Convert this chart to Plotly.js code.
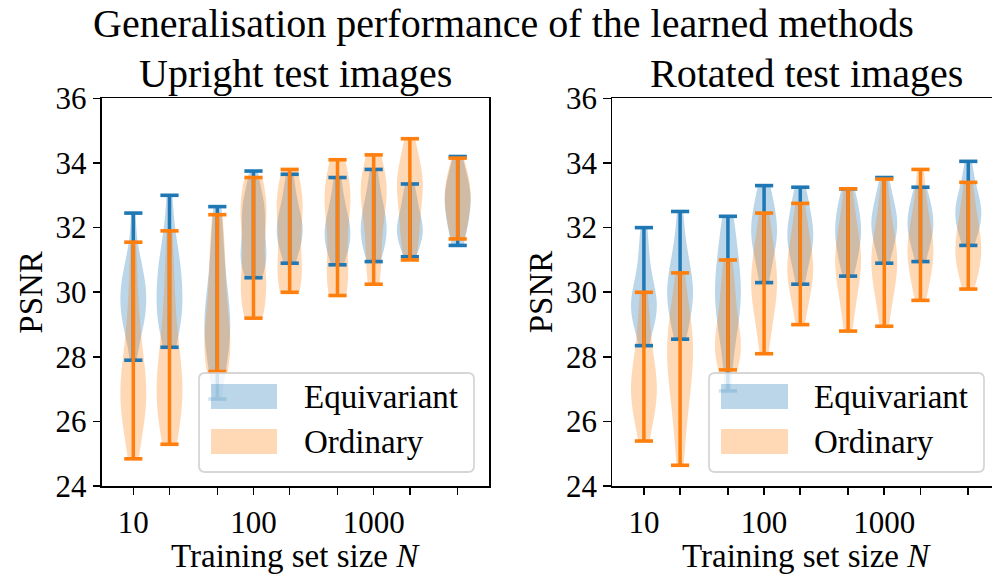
<!DOCTYPE html>
<html>
<head>
<meta charset="utf-8">
<script src="https://cdn.plot.ly/plotly-3.0.1.min.js"></script>
<style>
html,body{margin:0;padding:0;overflow:hidden;background:#fff;}
#plot{width:1000px;height:578px;}
</style>
</head>
<body>
<div id="plot"></div>
<script>
// ---------------- data ----------------
const sizes = [10, 20, 50, 100, 200, 500, 1000, 2000, 5000];
const tickLabels = ['10', '', '', '100', '', '', '1000', '', ''];
const yTicks = [24, 26, 28, 30, 32, 34, 36];
const seriesNames = ['Equivariant', 'Ordinary'];
const panelTitles = ['Upright test images', 'Rotated test images'];

// PSNR samples per training-set size (upright test images)
const uprightEquivariant = [
  [27.9, 28.7, 29.0, 29.2, 29.4, 29.5, 29.7, 30.0, 30.2, 30.4, 30.5, 30.8, 31.3, 32.45],
  [28.3, 28.9, 29.2, 29.35, 29.5, 29.9, 30.4, 30.6, 30.8, 31.2, 31.8, 33.0],
  [26.7, 27.8, 28.3, 28.6, 28.8, 29.0, 29.3, 29.7, 30.3, 31.0, 31.8, 32.65],
  [30.45, 30.8, 30.9, 31.0, 31.1, 31.3, 31.6, 32.0, 32.3, 32.5, 32.6, 32.8, 33.1, 33.75],
  [30.9, 31.3, 31.5, 31.7, 31.9, 32.0, 32.2, 32.4, 32.7, 33.1, 33.65],
  [30.85, 31.2, 31.4, 31.6, 31.8, 31.9, 32.1, 32.3, 32.6, 33.0, 33.55],
  [30.95, 31.3, 31.5, 31.7, 31.9, 32.1, 32.3, 32.5, 32.8, 33.2, 33.8],
  [31.1, 31.4, 31.6, 31.8, 31.9, 32.0, 32.2, 32.4, 32.7, 33.0, 33.35],
  [31.45, 31.8, 32.1, 32.4, 32.6, 32.8, 33.0, 33.2, 33.4, 33.7, 34.2]
];
const uprightOrdinary = [
  [24.85, 25.8, 26.2, 26.5, 26.7, 26.9, 27.1, 27.4, 27.8, 28.5, 29.3, 30.2, 31.55],
  [25.3, 26.0, 26.4, 26.7, 26.9, 27.1, 27.4, 27.9, 28.6, 29.5, 30.5, 31.9],
  [27.55, 27.8, 28.0, 28.2, 28.5, 29.0, 29.6, 30.3, 31.0, 31.7, 32.4],
  [29.2, 29.7, 29.9, 30.1, 30.4, 31.0, 31.8, 32.4, 32.6, 32.8, 33.0, 33.55],
  [30.0, 30.3, 30.5, 30.7, 31.2, 32.0, 32.5, 32.7, 32.9, 33.2, 33.8],
  [29.9, 30.2, 30.4, 30.6, 31.2, 32.0, 32.6, 32.8, 33.0, 33.2, 33.5, 34.1],
  [30.25, 30.6, 31.0, 31.6, 32.2, 32.7, 32.9, 33.1, 33.3, 33.5, 33.8, 34.25],
  [31.0, 31.4, 31.8, 32.2, 32.7, 33.1, 33.3, 33.5, 33.7, 34.0, 34.75],
  [31.65, 31.9, 32.2, 32.5, 32.7, 32.9, 33.1, 33.3, 33.5, 33.8, 34.15]
];
// PSNR samples per training-set size (rotated test images)
const rotatedEquivariant = [
  [28.35, 28.9, 29.2, 29.4, 29.5, 29.6, 29.8, 30.0, 30.3, 30.8, 31.4, 32.0],
  [28.55, 29.0, 29.4, 29.7, 29.9, 30.1, 30.3, 30.6, 31.0, 31.5, 32.5],
  [26.95, 28.2, 28.9, 29.3, 29.6, 29.9, 30.1, 30.4, 30.8, 31.3, 31.8, 32.35],
  [30.3, 30.8, 31.2, 31.5, 31.7, 31.9, 32.1, 32.3, 32.6, 33.0, 33.3],
  [30.25, 30.8, 31.2, 31.4, 31.6, 31.8, 32.0, 32.2, 32.5, 32.9, 33.25],
  [30.5, 30.9, 31.2, 31.5, 31.7, 31.9, 32.1, 32.3, 32.6, 32.9, 33.2],
  [30.9, 31.3, 31.6, 31.8, 32.0, 32.2, 32.3, 32.5, 32.8, 33.1, 33.55],
  [30.95, 31.3, 31.6, 31.8, 32.0, 32.1, 32.3, 32.5, 32.7, 33.0, 33.25],
  [31.45, 31.8, 32.0, 32.2, 32.4, 32.5, 32.7, 32.9, 33.1, 33.5, 34.05]
];
const rotatedOrdinary = [
  [25.4, 26.0, 26.4, 26.7, 26.9, 27.1, 27.3, 27.6, 28.0, 28.6, 29.3, 30.0],
  [24.65, 25.8, 26.5, 27.0, 27.5, 27.9, 28.2, 28.4, 28.7, 29.1, 29.7, 30.6],
  [27.6, 27.8, 28.0, 28.2, 28.4, 28.7, 29.0, 29.4, 29.9, 30.4, 31.0],
  [28.1, 28.8, 29.3, 29.7, 30.0, 30.2, 30.4, 30.7, 31.0, 31.4, 31.9, 32.45],
  [29.0, 29.6, 30.0, 30.3, 30.5, 30.7, 30.9, 31.1, 31.4, 31.8, 32.2, 32.75],
  [28.8, 29.5, 30.0, 30.4, 30.7, 30.9, 31.1, 31.3, 31.6, 32.0, 32.6, 33.2],
  [28.95, 29.6, 30.1, 30.4, 30.7, 30.9, 31.1, 31.3, 31.6, 32.0, 32.6, 33.5],
  [29.75, 30.2, 30.6, 30.9, 31.1, 31.3, 31.5, 31.7, 32.0, 32.4, 33.0, 33.8],
  [30.1, 30.5, 30.8, 31.0, 31.2, 31.4, 31.6, 31.8, 32.1, 32.5, 32.9, 33.4]
];

// ---------------- styling ----------------
const FONT = 'Liberation Serif';
const colors = ['#1f77b4', '#ff7f0e'];
const fills = ['rgba(31,119,180,0.3)', 'rgba(255,127,14,0.3)'];
const W = 1000, H = 578;
const VW = 0.215;           // violin width (log10 units)
const positions = sizes.map(s => Math.log10(s));

// Scott's rule bandwidth (matplotlib's violinplot default)
function scottBw(a) {
  const n = a.length, m = a.reduce((s, v) => s + v, 0) / n;
  const sd = Math.sqrt(a.reduce((s, v) => s + (v - m) * (v - m), 0) / (n - 1));
  return sd * Math.pow(n, -0.2);
}

const traces = [];
function addPanel(sets, xa, ya) {
  sets.forEach((set, si) => {
    set.forEach((samples, i) => {
      traces.push({
        type: 'violin', xaxis: xa, yaxis: ya,
        x: samples.map(() => positions[i]), y: samples,
        width: VW, scalemode: 'width', spanmode: 'hard',
        bandwidth: scottBw(samples),
        fillcolor: fills[si], line: {width: 0, color: fills[si]},
        points: false, box: {visible: false}, meanline: {visible: false},
        showlegend: false, hoverinfo: 'skip'
      });
    });
  });
  sets.forEach((set, si) => {
    const xs = [], ys = [];
    set.forEach((samples, i) => {
      xs.push(positions[i], positions[i], null);
      ys.push(Math.min(...samples), Math.max(...samples), null);
    });
    traces.push({
      type: 'scatter', mode: 'lines+markers', xaxis: xa, yaxis: ya,
      x: xs, y: ys,
      line: {color: colors[si], width: 3.5},
      marker: {symbol: 'line-ew', size: 13, color: colors[si], line: {color: colors[si], width: 3.6}},
      showlegend: false, hoverinfo: 'skip', cliponaxis: false
    });
  });
}
addPanel([uprightEquivariant, uprightOrdinary], 'x', 'y');
addPanel([rotatedEquivariant, rotatedOrdinary], 'x2', 'y2');

const px = x => x / W, py = y => 1 - y / H;

function xAxis(domain) {
  return {
    domain: domain, range: [0.737, 3.962], tickmode: 'array',
    tickvals: positions, ticktext: tickLabels,
    ticks: 'outside', ticklen: 7.5, tickwidth: 1.6, tickcolor: '#000',
    showline: true, mirror: true, linecolor: '#000', linewidth: 1.6,
    showgrid: false, zeroline: false, fixedrange: true,
    tickfont: {family: FONT, size: 31, color: '#000'}
  };
}
function yAxis(anchor) {
  return {
    domain: [py(486.3), py(98.3)], range: [24, 36], anchor: anchor,
    tickmode: 'array', tickvals: yTicks, ticktext: yTicks.map(String),
    ticks: 'outside', ticklen: 7.5, tickwidth: 1.6, tickcolor: '#000',
    showline: true, mirror: true, linecolor: '#000', linewidth: 1.6,
    showgrid: false, zeroline: false, fixedrange: true,
    tickfont: {family: FONT, size: 31, color: '#000'}
  };
}

const annotations = [];
const shapes = [];
function txt(text, x, y, size, extra) {
  annotations.push(Object.assign({
    text: text, x: px(x), y: py(y), xref: 'paper', yref: 'paper',
    xanchor: 'center', yanchor: 'middle', showarrow: false,
    font: {family: FONT, size: size, color: '#000'}
  }, extra || {}));
}
txt('Generalisation performance of the learned methods', 503.5, 23, 40);

const panels = [
  {left: 101.7, right: 489.3, legL: 199, legR: 474, patchL: 211, patchR: 277, textX: 302},
  {left: 612.3, right: 999.9, legL: 709, legR: 984, patchL: 721, patchR: 788, textX: 812}
];
panels.forEach((p, k) => {
  const cx = (p.left + p.right) / 2;
  txt(panelTitles[k], cx, 73, 40);
  txt('Training set size <i>N</i>', cx, 556, 33);
  txt('PSNR', p.left - 71, 292, 33, {textangle: -90});
  // legend frame (rounded)
  const t = 373, b = 472, r = 6;
  const L = p.legL, R = p.legR;
  const path = `M ${px(L + r)},${py(t)} L ${px(R - r)},${py(t)} Q ${px(R)},${py(t)} ${px(R)},${py(t + r)} ` +
    `L ${px(R)},${py(b - r)} Q ${px(R)},${py(b)} ${px(R - r)},${py(b)} L ${px(L + r)},${py(b)} ` +
    `Q ${px(L)},${py(b)} ${px(L)},${py(b - r)} L ${px(L)},${py(t + r)} Q ${px(L)},${py(t)} ${px(L + r)},${py(t)} Z`;
  shapes.push({type: 'path', path: path, xref: 'paper', yref: 'paper', layer: 'above',
    fillcolor: 'rgba(255,255,255,0.8)', line: {color: 'rgba(204,204,204,0.8)', width: 1.8}});
  const rows = [[384, 409, 397], [429, 454, 442]];
  rows.forEach((row, si) => {
    shapes.push({type: 'rect', xref: 'paper', yref: 'paper', layer: 'above',
      x0: px(p.patchL), x1: px(p.patchR), y0: py(row[1]), y1: py(row[0]),
      fillcolor: fills[si], line: {width: 0}});
    txt(seriesNames[si], p.textX, row[2], 33, {xanchor: 'left'});
  });
});

const layout = {
  width: W, height: H, margin: {l: 0, r: 0, t: 0, b: 0, pad: 0},
  paper_bgcolor: '#fff', plot_bgcolor: '#fff', showlegend: false,
  violinmode: 'overlay',
  xaxis: Object.assign(xAxis([px(101.7), px(489.3)]), {anchor: 'y'}),
  yaxis: yAxis('x'),
  xaxis2: Object.assign(xAxis([px(612.3), px(999.9)]), {anchor: 'y2'}),
  yaxis2: yAxis('x2'),
  annotations: annotations, shapes: shapes,
  font: {family: FONT, color: '#000'}
};
Plotly.newPlot('plot', traces, layout, {staticPlot: true, displayModeBar: false});
</script>
</body>
</html>
